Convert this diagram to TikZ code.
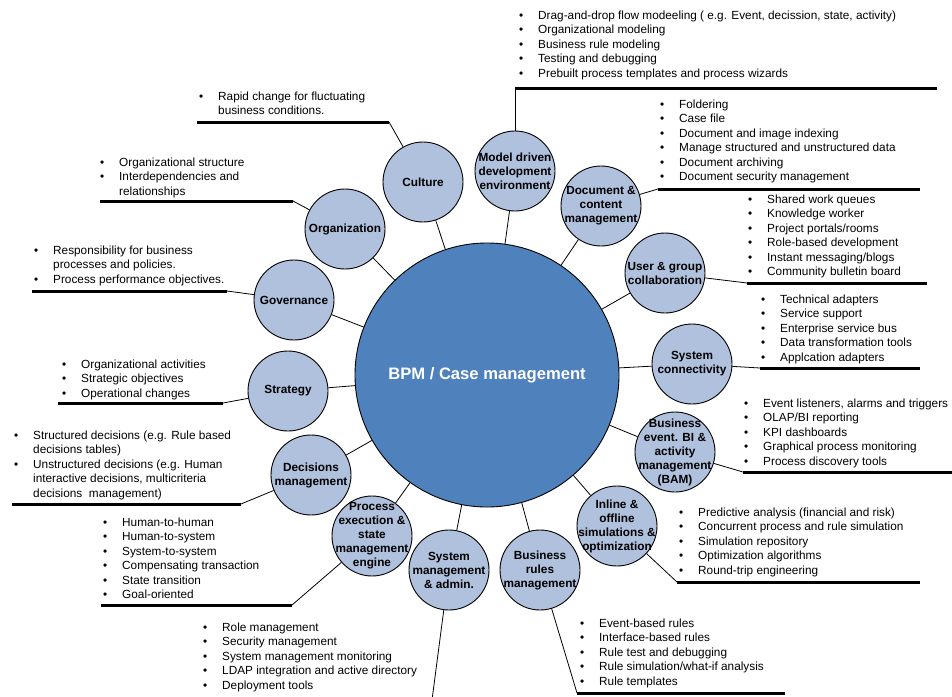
\documentclass[tikz,border=0pt]{standalone}
\usepackage{fontspec}
\setmainfont{Liberation Sans}
\definecolor{corefill}{RGB}{79,129,189}
\definecolor{satfill}{RGB}{176,193,221}
\newcommand{\bul}{\makebox[19pt][l]{\textbullet}}
\newcommand{\ind}{\hspace*{19pt}}
\tikzset{
  core/.style={circle, draw, line width=0.9pt, fill=corefill, minimum size=264pt, inner sep=0pt},
  corelbl/.style={text=white, font=\bfseries\fontsize{16.6}{20}\selectfont},
  sat/.style={circle, draw, line width=0.9pt, fill=satfill, minimum size=80pt, inner sep=0pt},
  satlbl/.style={align=center, inner sep=0pt, font=\bfseries\fontsize{11.8}{14}\selectfont},
  items/.style={anchor=base west, inner sep=0pt, align=left, font=\fontsize{11.8}{14.5}\selectfont},
  uline/.style={line width=3pt},
  link/.style={line width=0.8pt}
}

\begin{document}
\begin{tikzpicture}[x=1pt, y=-1pt]
\useasboundingbox (0,0) rectangle (952,696);

% Hub
\node[core] (core) at (487,375) {};
\node[corelbl] (core-t) at (core) {BPM / Case management};

% Satellites around the hub
\foreach \n/\x/\y/\t in {
    cul/423/182/{Culture},
    mde/515/171/{Model driven\\development\\environment},
    dcm/601/206/{Document \&\\content\\management},
    ugc/665/273/{User \& group\\collaboration},
    sc/692/364/{System\\connectivity},
    bam/675/452/{Business\\event. BI \&\\activity\\management\\(BAM)},
    sim/617/526/{Inline \&\\offline\\simulations \&\\optimization},
    brm/540/570/{Business\\rules\\management},
    sma/449/570/{System\\management\\\& admin.},
    pex/372/536/{Process\\execution \&\\state\\management\\engine},
    dec/311/475/{Decisions\\management},
    str/288/391/{Strategy},
    gov/294/300/{Governance},
    org/345/229/{Organization}} {
  \node[sat] (\n) at (\x,\y) {};
  \node[satlbl] (\n-t) at (\n) {\t};
  \draw[link] (core) -- (\n);
}

% Underlines (free ends of the connectors)
\foreach \n/\x/\y/\l in {
    cul/389/122/-192, org/293/201/-193, gov/227/291/-195,
    str/223/403/-165, dec/241/504/-229, pex/292/605/-191,
    brm/577/693/208, sim/677/582/243, bam/743/472/209,
    sc/760/368/160, ugc/747/283/180, dcm/658/189/262,
    mde/515/88/422} {
  \coordinate (\n-u) at (\x,\y);
  \draw[uline] (\n-u) -- ++(\l,0);
  \draw[link] (\n) -- (\n-u);
}
\coordinate (sma-u) at (432,700);
\draw[link] (sma) -- (sma-u);

% Feature lists (placed at the baseline of their last line)
\node[items] (mde-l) at (519,77) {\bul Drag-and-drop flow modeeling ( e.g. Event, decission, state, activity)\\
\bul Organizational modeling\\
\bul Business rule modeling\\
\bul Testing and debugging\\
\bul Prebuilt process templates and process wizards};

\node[items] (dcm-l) at (660,180.5) {\bul Foldering\\
\bul Case file\\
\bul Document and image indexing\\
\bul Manage structured and unstructured data\\
\bul Document archiving\\
\bul Document security management};

\node[items] (ugc-l) at (748,275.5) {\bul Shared work queues\\
\bul Knowledge worker\\
\bul Project portals/rooms\\
\bul Role-based development\\
\bul Instant messaging/blogs\\
\bul Community bulletin board};

\node[items] (sc-l) at (761,361) {\bul Technical adapters\\
\bul Service support\\
\bul Enterprise service bus\\
\bul Data transformation tools\\
\bul Applcation adapters};

\node[items] (bam-l) at (744,465) {\bul Event listeners, alarms and triggers\\
\bul OLAP/BI reporting\\
\bul KPI dashboards\\
\bul Graphical process monitoring\\
\bul Process discovery tools};

\node[items] (sim-l) at (679,574) {\bul Predictive analysis (financial and risk)\\
\bul Concurrent process and rule simulation\\
\bul Simulation repository\\
\bul Optimization algorithms\\
\bul Round-trip engineering};

\node[items] (brm-l) at (580,685) {\bul Event-based rules\\
\bul Interface-based rules\\
\bul Rule test and debugging\\
\bul Rule simulation/what-if analysis\\
\bul Rule templates};

\node[items] (sma-l) at (203,689) {\bul Role management\\
\bul Security management\\
\bul System management monitoring\\
\bul LDAP integration and active directory\\
\bul Deployment tools};

\node[items] (pex-l) at (103,598.5) {\bul Human-to-human\\
\bul Human-to-system\\
\bul System-to-system\\
\bul Compensating transaction\\
\bul State transition\\
\bul Goal-oriented};

\node[items] (dec-l) at (14,497) {\bul Structured decisions (e.g. Rule based\\
\ind decisions tables)\\
\bul Unstructured decisions (e.g. Human\\
\ind interactive decisions, multicriteria\\
\ind decisions\ \ management)};

\node[items] (str-l) at (62,397) {\bul Organizational activities\\
\bul Strategic objectives\\
\bul Operational changes};

\node[items] (gov-l) at (34,283) {\bul Responsibility for business\\
\ind processes and policies.\\
\bul Process performance objectives.};

\node[items] (org-l) at (100,195) {\bul Organizational structure\\
\bul Interdependencies and\\
\ind relationships};

\node[items] (cul-l) at (199,114.5) {\bul Rapid change for fluctuating\\
\ind business conditions.};

\end{tikzpicture}
\end{document}
